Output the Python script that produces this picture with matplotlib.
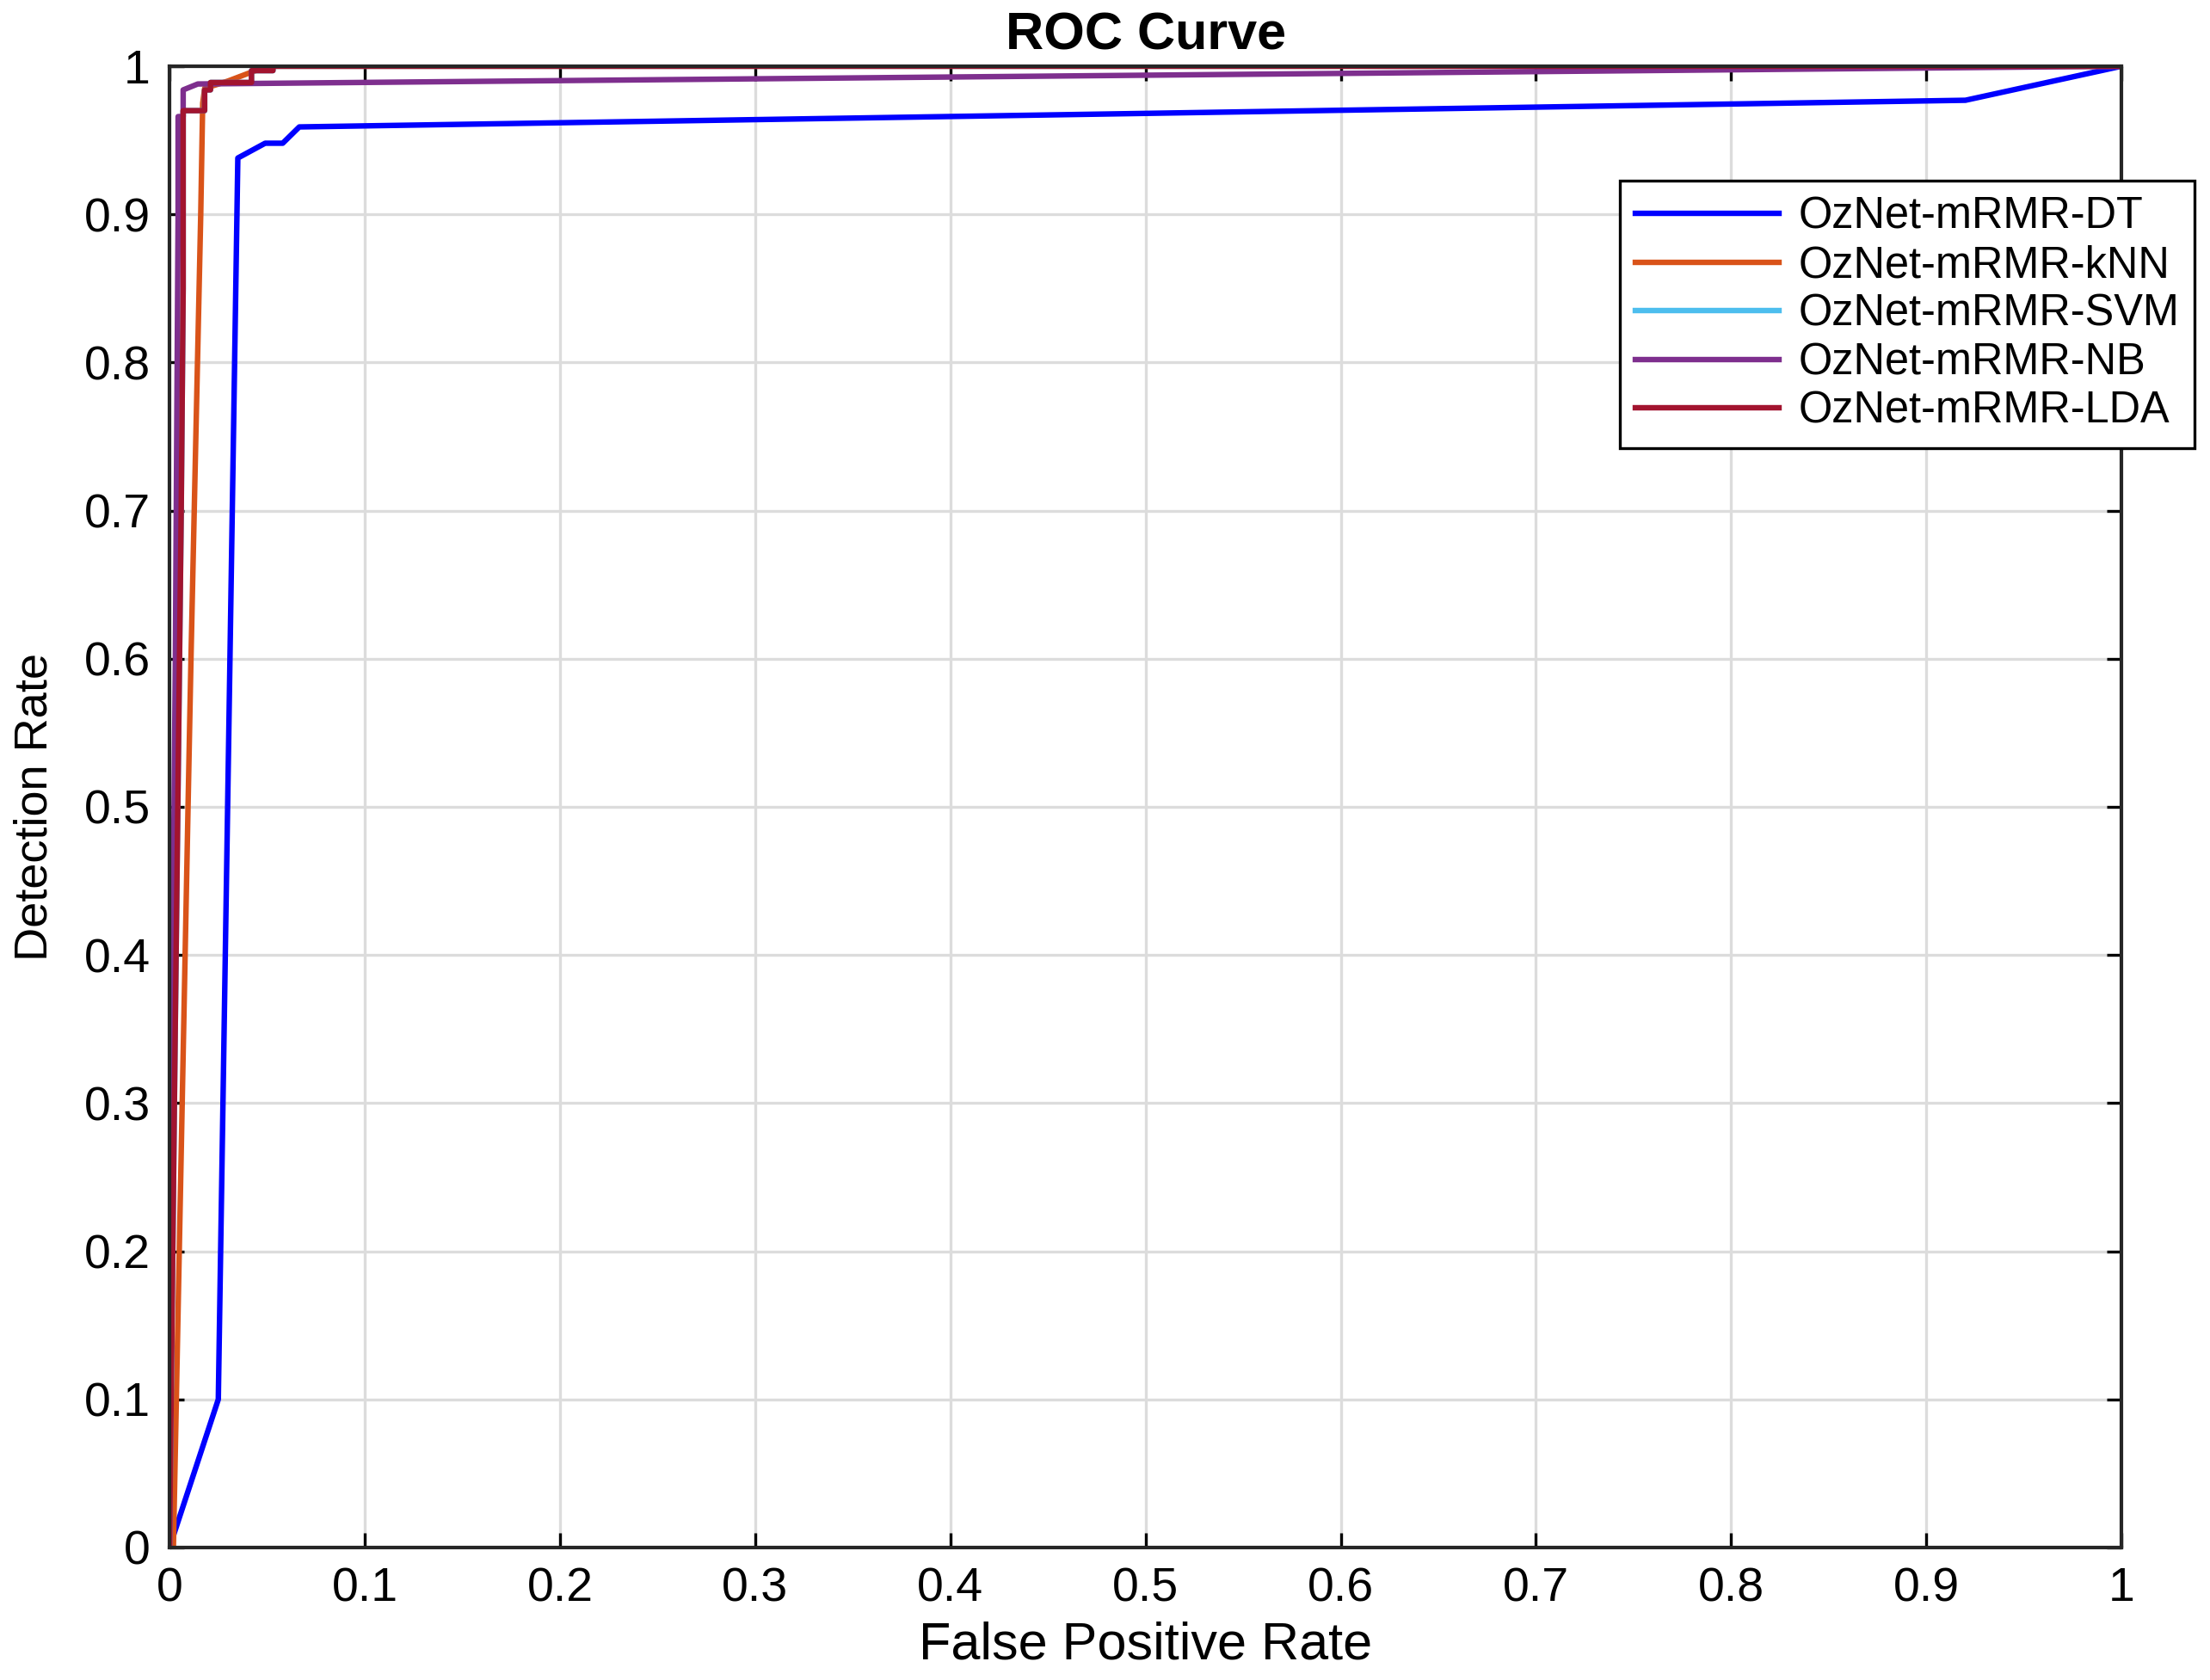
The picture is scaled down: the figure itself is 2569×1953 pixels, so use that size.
import numpy as np
import matplotlib.pyplot as plt

# ROC points
dt_fpr = [0, 0.025, 0.035, 0.049, 0.058, 0.0665, 0.92, 1.0]
dt_tpr = [0, 0.10, 0.938, 0.948, 0.948, 0.959, 0.977, 1.0]

knn_fpr = [0, 0.002, 0.005, 0.011, 0.016, 0.017, 0.018, 0.03, 0.05, 1.0]
knn_tpr = [0, 0.0, 0.2, 0.6, 0.9, 0.975, 0.985, 0.99, 1.0, 1.0]

# SVM is hidden under the LDA curve in the picture
svm_fpr = [0, 0.0025, 0.006, 0.007, 0.007, 0.018, 0.018, 0.021, 0.021, 0.042, 0.042, 0.053, 0.053, 1.0]
svm_tpr = [0, 0.3, 0.7, 0.85, 0.970, 0.970, 0.984, 0.984, 0.989, 0.989, 0.997, 0.997, 1.0, 1.0]

nb_fpr = [0, 0.001, 0.003, 0.0044, 0.0044, 0.007, 0.007, 0.0145, 1.0]
nb_tpr = [0, 0.3, 0.6, 0.9, 0.966, 0.966, 0.984, 0.988, 1.0]

lda_fpr = [0, 0.0025, 0.006, 0.007, 0.007, 0.018, 0.018, 0.021, 0.021, 0.042, 0.042, 0.053, 0.053, 1.0]
lda_tpr = [0, 0.3, 0.7, 0.85, 0.970, 0.970, 0.984, 0.984, 0.989, 0.989, 0.997, 0.997, 1.0, 1.0]

labels = ['OzNet-mRMR-DT', 'OzNet-mRMR-kNN', 'OzNet-mRMR-SVM', 'OzNet-mRMR-NB', 'OzNet-mRMR-LDA']
colors = ['#0000FF', '#D95319', '#4DBEEE', '#7E2F8E', '#A2142F']

plt.rcParams['font.family'] = ['Liberation Sans', 'DejaVu Sans']

fig = plt.figure(figsize=(2569 / 200, 1953 / 200), dpi=200)
ax = fig.add_axes([0.0767, 0.0789, 0.8833, 0.8817])

lw = 2.3
ax.plot(dt_fpr, dt_tpr, color=colors[0], lw=lw, label=labels[0])
ax.plot(knn_fpr, knn_tpr, color=colors[1], lw=lw, label=labels[1])
ax.plot(svm_fpr, svm_tpr, color=colors[2], lw=lw, label=labels[2])
ax.plot(nb_fpr, nb_tpr, color=colors[3], lw=lw, label=labels[3])
ax.plot(lda_fpr, lda_tpr, color=colors[4], lw=lw, label=labels[4])

ax.set_xlim(0, 1)
ax.set_ylim(0, 1)
ticks = np.round(np.arange(0, 1.01, 0.1), 1)
ticklabels = ['0'] + ['%.1f' % t for t in ticks[1:-1]] + ['1']
ax.set_xticks(ticks)
ax.set_xticklabels(ticklabels)
ax.set_yticks(ticks)
ax.set_yticklabels(ticklabels)
ax.tick_params(direction='in', top=True, right=True, labelsize=20, length=6, width=1.2, pad=8)
ax.grid(True, color='#DCDCDC', lw=1.2)
ax.set_axisbelow(True)
for s in ax.spines.values():
    s.set_linewidth(1.5)
    s.set_color('#262626')

ax.set_xlabel('False Positive Rate', fontsize=22, labelpad=4)
ax.set_ylabel('Detection Rate', fontsize=19.5)
ax.yaxis.set_label_coords(-0.058, 0.5)
ax.set_title('ROC Curve', fontsize=22, fontweight='bold', pad=7)

leg = ax.legend(loc='upper right', bbox_to_anchor=(0.993, 0.8925), bbox_transform=fig.transFigure,
                fontsize=18.2, fancybox=False, edgecolor='black', framealpha=1,
                handlelength=3.3, handletextpad=0.45, labelspacing=0.15, borderpad=0.35,
                borderaxespad=0)
leg.get_frame().set_linewidth(1.2)

fig.savefig('out.png', dpi=200)
